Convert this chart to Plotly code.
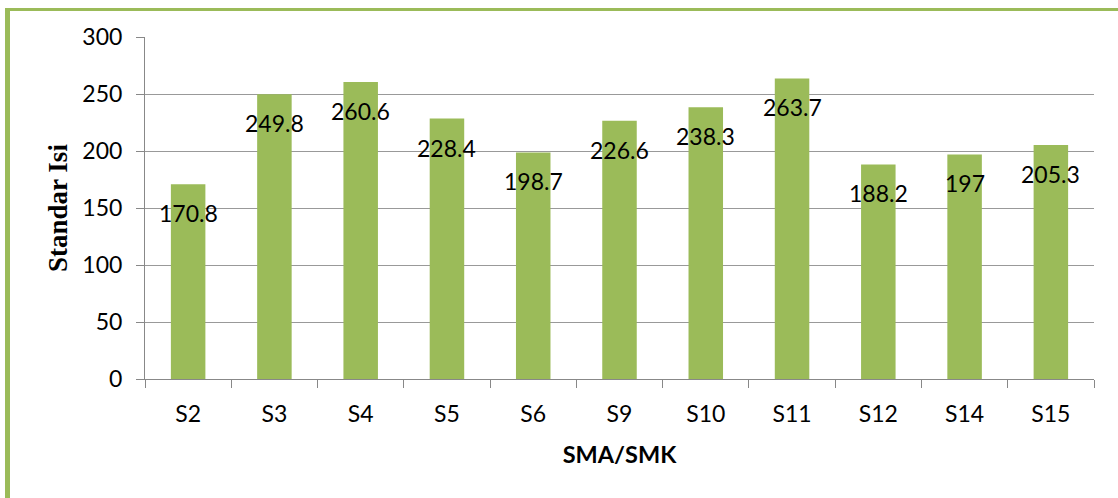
import plotly.graph_objects as go

# data
schools = ["S2", "S3", "S4", "S5", "S6", "S9", "S10", "S11", "S12", "S14", "S15"]
standar_isi = [170.8, 249.8, 260.6, 228.4, 198.7, 226.6, 238.3, 263.7, 188.2, 197, 205.3]
y_ticks = [0, 50, 100, 150, 200, 250, 300]

GREEN = "#9BBB59"
W, H = 1118, 498
M_L, M_R, M_T, M_B = 145, 24, 37, 119
plot_w = W - M_L - M_R
plot_h = H - M_T - M_B


def px_x(px):
    return (px - M_L) / plot_w


def px_y(py):
    return (H - M_B - py) / plot_h


fig = go.Figure()
fig.add_trace(
    go.Bar(
        x=schools,
        y=standar_isi,
        marker=dict(color=GREEN, line=dict(width=0)),
        hoverinfo="x+y",
    )
)

# data labels sit a little below the top of each bar, like the original
for name, val in zip(schools, standar_isi):
    fig.add_annotation(
        x=name, y=val, text=f"{val:g}", showarrow=False,
        yshift=-29, yanchor="middle",
        font=dict(family="Lato", size=23, color="black"),
    )

# green frame around the chart (cut off on the right and bottom)
fig.add_shape(type="rect", xref="paper", yref="paper",
              x0=px_x(5), x1=px_x(10), y0=px_y(H + 5), y1=px_y(8),
              fillcolor=GREEN, line=dict(width=0), layer="above")
fig.add_shape(type="rect", xref="paper", yref="paper",
              x0=px_x(5), x1=px_x(W + 5), y0=px_y(11), y1=px_y(8),
              fillcolor=GREEN, line=dict(width=0), layer="above")

fig.update_layout(
    width=W, height=H,
    margin=dict(l=M_L, r=M_R, t=M_T, b=M_B),
    paper_bgcolor="white", plot_bgcolor="white",
    bargap=0.6,
    showlegend=False,
    font=dict(family="Lato", size=23, color="black"),
)
fig.update_xaxes(
    title=dict(text="SMA/SMK", font=dict(family="Lato", size=23.5, weight="bold"), standoff=20),
    automargin=False,
    showline=True, linecolor="#888888", linewidth=1,
    ticks="outside", ticklen=8, tickcolor="#888888", tickson="boundaries",
    ticklabelstandoff=14,
    showgrid=False,
)
fig.update_yaxes(
    title=dict(text="Standar Isi",
               font=dict(family="Liberation Serif", size=27, weight="bold"), standoff=6),
    automargin=False,
    range=[0, 300], tickvals=y_ticks,
    showline=True, linecolor="#888888", linewidth=1,
    ticks="outside", ticklen=8, tickcolor="#888888",
    ticklabelstandoff=9,
    showgrid=True, gridcolor="#999999", gridwidth=1,
    zeroline=False,
)

# the page body has a default 8px margin; remove it so the chart sits at 0,0
fig.write_html(
    "out.html",
    config={"displayModeBar": False},
    post_script="document.body.style.margin='0';",
)
